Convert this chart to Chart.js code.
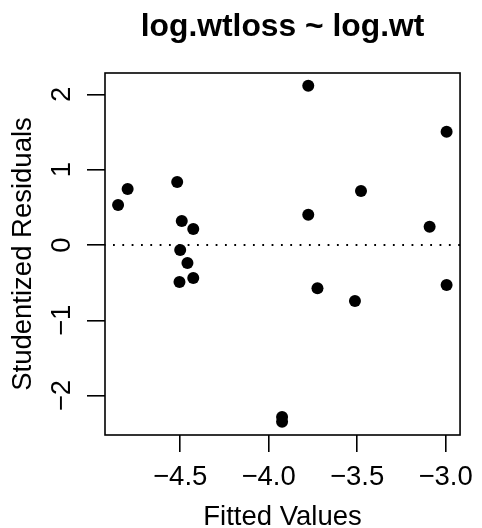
<!DOCTYPE html>
<html>
<head>
<meta charset="utf-8">
<script src="https://cdn.jsdelivr.net/npm/chart.js@4.4.1/dist/chart.umd.min.js"></script>
<style>
  html, body { margin: 0; padding: 0; background: #ffffff; }
  #wrap { width: 482px; height: 528px; position: relative; }
  canvas { display: block; }
</style>
</head>
<body>
<div id="wrap"><canvas id="c" width="482" height="528"></canvas></div>
<script>
// ---- data ----
const chartTitle = "log.wtloss ~ log.wt";
const xAxisTitle = "Fitted Values";
const yAxisTitle = "Studentized Residuals";

const fittedValues = [-4.851, -4.797, -4.517, -4.491, -4.426, -4.500, -4.459, -4.426, -4.504,
                      -3.924, -3.924, -3.776, -2.994, -3.478, -3.776, -3.090, -3.724, -3.512, -2.994];
const studentizedResiduals = [0.531, 0.744, 0.837, 0.319, 0.212, -0.066, -0.239, -0.438, -0.491,
                      -2.285, -2.346, 2.116, 1.505, 0.717, 0.403, 0.243, -0.575, -0.744, -0.531];

const xTickValues = [-4.5, -4.0, -3.5, -3.0];
const xTickLabels = ["\u22124.5", "\u22124.0", "\u22123.5", "\u22123.0"];
const yTickValues = [-2, -1, 0, 1, 2];
const yTickLabels = ["\u22122", "\u22121", "0", "1", "2"];

const xRange = [-4.925, -2.918];
const yRange = [-2.523, 2.284];
const referenceLevel = [0, 0];

// ---- chart ----
const FONT = '"Liberation Sans", Arial, Helvetica, sans-serif';
const AXIS_SIZE = 27.5;
const TITLE_SIZE = 31.8;

const points = fittedValues.map((x, i) => ({ x: x, y: studentizedResiduals[i] }));
const refLine = xRange.map((x, i) => ({ x: x, y: referenceLevel[i] }));

const boxAndTitle = {
  id: 'boxAndTitle',
  afterDraw(chart) {
    const { ctx, chartArea: a } = chart;
    ctx.save();
    ctx.strokeStyle = '#000';
    ctx.lineWidth = 1.6;
    ctx.strokeRect(a.left, a.top, a.right - a.left, a.bottom - a.top);
    ctx.fillStyle = '#000';
    ctx.font = 'bold ' + TITLE_SIZE + 'px ' + FONT;
    ctx.textAlign = 'center';
    ctx.textBaseline = 'alphabetic';
    ctx.fillText(chartTitle, (a.left + a.right) / 2, 36);
    ctx.restore();
  }
};

new Chart(document.getElementById('c'), {
  type: 'scatter',
  data: {
    datasets: [
      {
        type: 'line',
        data: refLine,
        borderColor: '#000',
        borderWidth: 1.8,
        borderDash: [1.8, 7.53],
        borderDashOffset: -8,
        pointRadius: 0,
        fill: false,
        order: 2
      },
      {
        data: points,
        backgroundColor: '#000',
        borderColor: '#000',
        borderWidth: 0,
        pointRadius: 6,
        pointHoverRadius: 6,
        order: 1
      }
    ]
  },
  plugins: [boxAndTitle],
  options: {
    responsive: false,
    animation: false,
    events: [],
    layout: { padding: { top: 73, right: 15, left: 0, bottom: 0 } },
    plugins: { legend: { display: false }, tooltip: { enabled: false }, title: { display: false } },
    scales: {
      x: {
        type: 'linear',
        min: xRange[0],
        max: xRange[1],
        afterBuildTicks(scale) { scale.ticks = xTickValues.map(v => ({ value: v })); },
        afterFit(scale) { scale.height = 93; },
        grid: { drawOnChartArea: false, drawTicks: true, tickLength: 17, color: '#000', lineWidth: 1.6 },
        border: { display: false },
        ticks: {
          autoSkip: false,
          maxRotation: 0,
          minRotation: 0,
          padding: 8.7,
          color: '#000',
          font: { family: FONT, size: AXIS_SIZE },
          callback: (v, i) => xTickLabels[i]
        },
        title: {
          display: true,
          text: xAxisTitle,
          color: '#000',
          font: { family: FONT, size: AXIS_SIZE },
          padding: { top: 0, bottom: -5.7 }
        }
      },
      y: {
        type: 'linear',
        min: yRange[0],
        max: yRange[1],
        afterBuildTicks(scale) { scale.ticks = yTickValues.map(v => ({ value: v })); },
        afterFit(scale) { scale.width = 105; },
        grid: { drawOnChartArea: false, drawTicks: true, tickLength: 18, color: '#000', lineWidth: 1.6 },
        border: { display: false },
        ticks: {
          autoSkip: false,
          minRotation: 90,
          maxRotation: 90,
          crossAlign: 'center',
          padding: 8.8,
          color: '#000',
          font: { family: FONT, size: AXIS_SIZE },
          callback: (v, i) => yTickLabels[i]
        },
        title: {
          display: true,
          text: yAxisTitle,
          color: '#000',
          font: { family: FONT, size: AXIS_SIZE },
          padding: { top: 7.3, bottom: 0 }
        }
      }
    }
  }
});
</script>
</body>
</html>
